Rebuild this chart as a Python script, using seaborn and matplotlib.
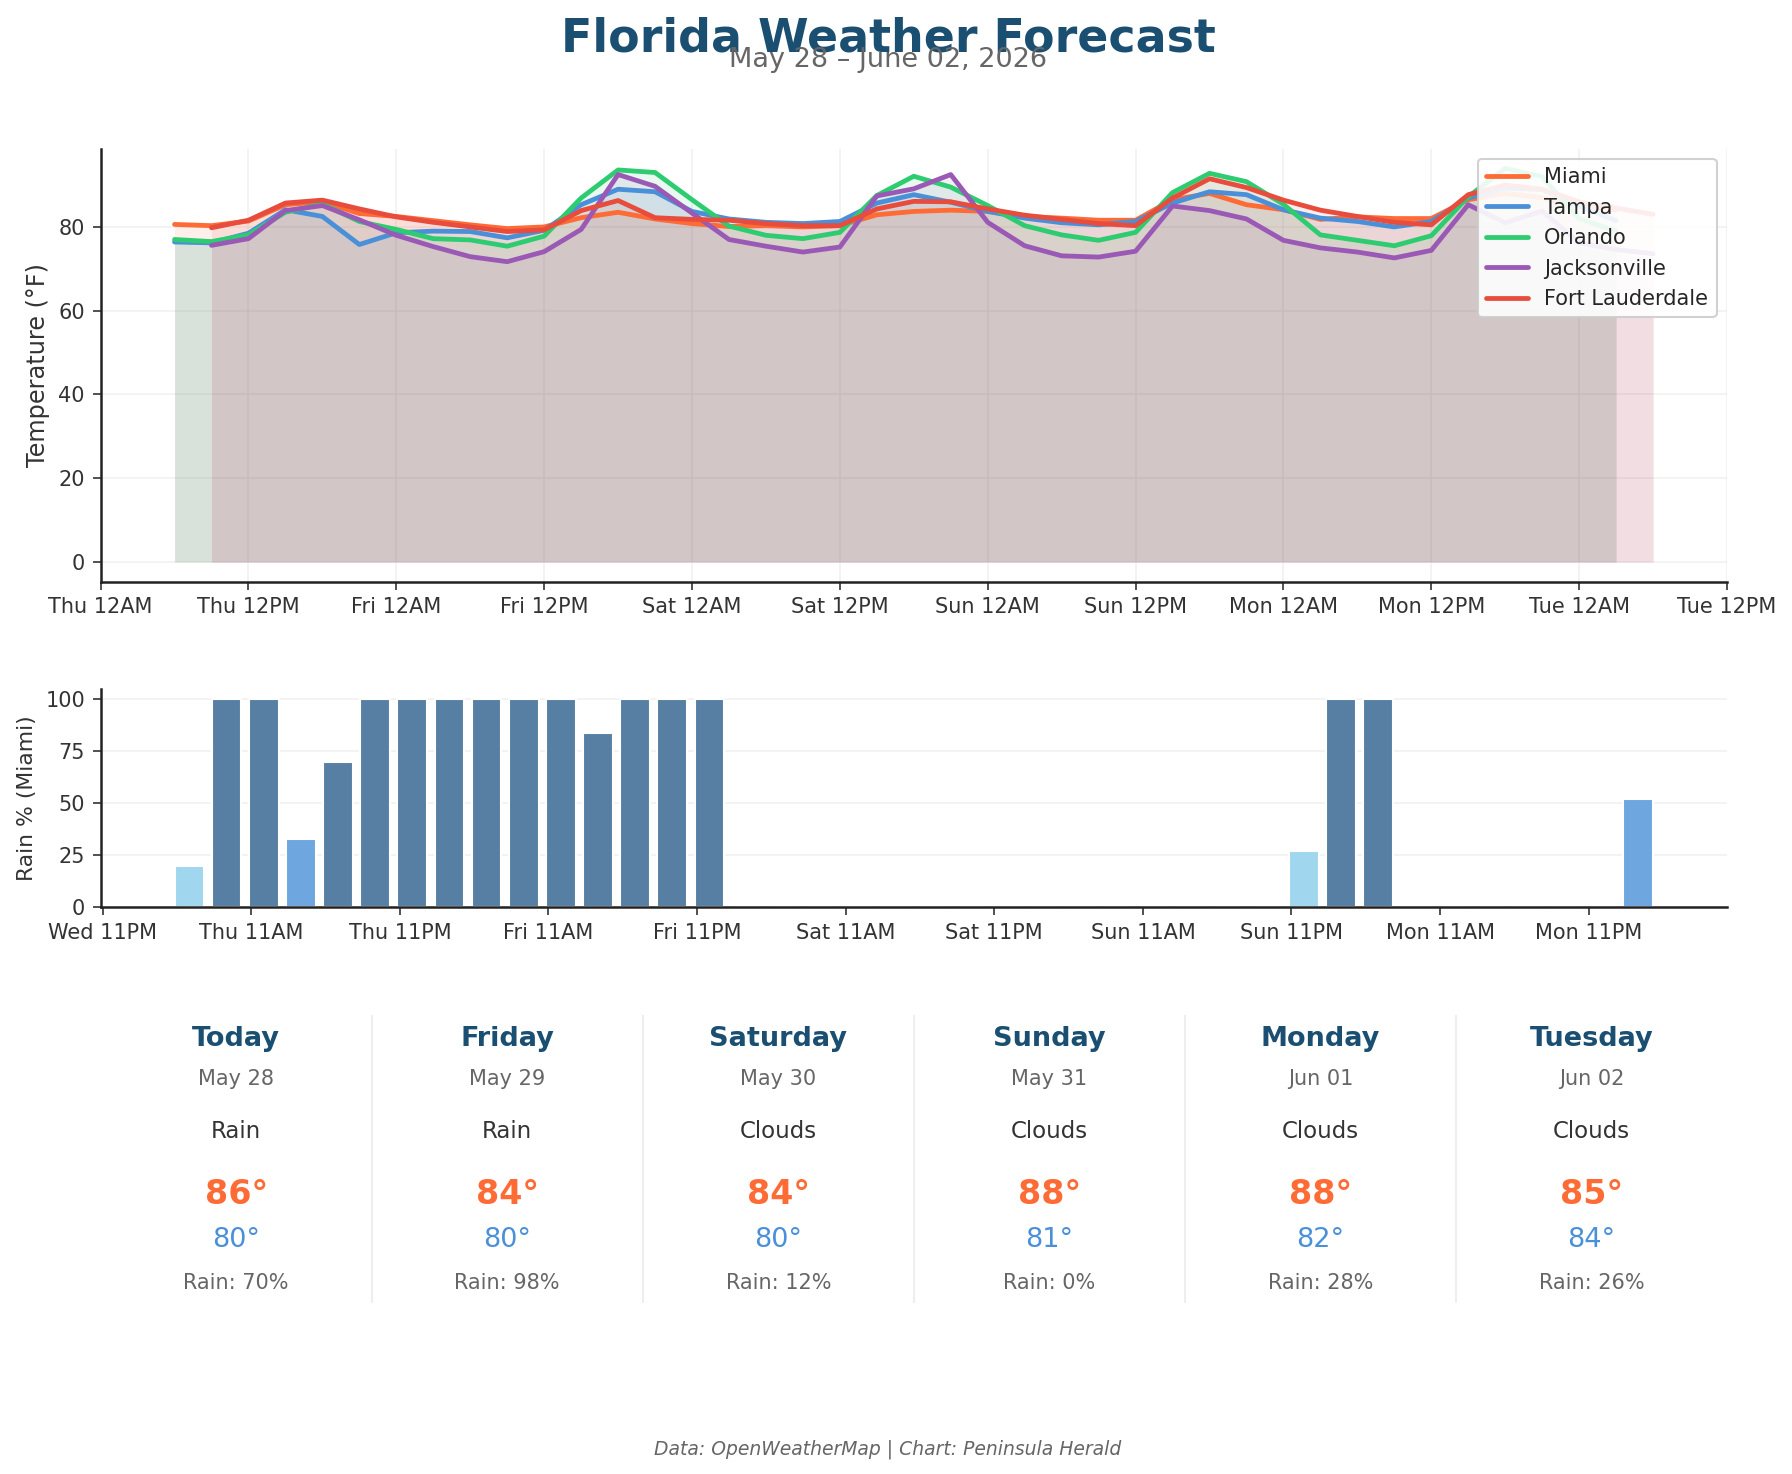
import pandas as pd
import numpy as np
import matplotlib.pyplot as plt
import matplotlib.dates as mdates
import seaborn as sns

# 城市与配色
cities = ['Miami', 'Tampa', 'Orlando', 'Jacksonville', 'Fort Lauderdale']
city_colors = ['#FF6B35', '#4A90D9', '#2ECC71', '#9B59B6', '#E74C3C']
city_start = ['2026-05-28 06:00', '2026-05-28 06:00', '2026-05-28 06:00',
              '2026-05-28 09:00', '2026-05-28 09:00']

# 3小时间隔的温度 (°F)
miami = [80.6, 80.3, 81.4, 85.3, 86.0, 83.2, 82.5, 81.5, 80.5, 79.6,
         80.0, 82.2, 83.5, 81.9, 80.8, 80.1, 80.3, 80.0, 80.3, 82.9,
         83.7, 84.0, 83.7, 82.5, 82.1, 81.6, 81.6, 86.5, 88.0, 85.3,
         84.1, 81.8, 82.4, 82.0, 82.0, 86.5, 88.0, 87.0, 85.0, 84.0]
tampa = [76.4, 76.2, 78.5, 84.1, 82.5, 75.8, 78.6, 79.0, 78.9, 77.4,
         79.2, 85.3, 89.0, 88.4, 83.7, 81.9, 81.1, 80.8, 81.3, 85.7,
         87.7, 85.9, 83.7, 82.1, 81.0, 80.5, 81.3, 85.7, 88.4, 87.7,
         84.1, 82.1, 81.3, 80.0, 81.3, 86.9, 89.3, 88.9, 85.0, 81.5]
orlando = [77.0, 76.5, 78.1, 83.5, 85.5, 81.3, 79.4, 77.2, 76.9, 75.4,
           77.8, 86.9, 93.6, 93.0, 86.5, 80.2, 78.0, 77.2, 78.7, 87.5,
           92.1, 89.5, 85.1, 80.3, 78.1, 76.8, 78.7, 88.2, 92.8, 90.8,
           85.4, 78.1, 76.8, 75.5, 77.9, 87.2, 94.0, 92.0, 82.0, 79.0]
jacksonville = [75.6, 77.2, 83.9, 85.1, 81.7, 78.0, 75.3, 72.9, 71.7, 74.1,
                79.4, 92.5, 89.7, 83.3, 77.0, 75.4, 74.0, 75.2, 87.4, 89.1,
                92.5, 81.1, 75.5, 73.1, 72.8, 74.2, 85.0, 83.9, 81.9, 76.8,
                75.0, 74.0, 72.6, 74.4, 85.3, 81.0, 83.8, 76.2, 74.6, 73.6]
fort_lauderdale = [79.8, 81.6, 85.7, 86.4, 84.3, 82.4, 81.1, 80.0, 78.9, 79.3,
                   83.9, 86.3, 82.2, 81.8, 81.6, 80.8, 80.3, 80.3, 84.3, 86.1,
                   86.0, 84.3, 82.8, 81.8, 80.8, 80.3, 86.9, 91.5, 89.4, 86.4,
                   84.0, 82.5, 81.1, 80.5, 87.7, 90.0, 89.0, 86.0, 84.5, 83.0]
temps = [miami, tampa, orlando, jacksonville, fort_lauderdale]

# 迈阿密降雨概率 (%)
rain_miami = [20, 100, 100, 33, 70, 100, 100, 100, 100, 100,
              100, 84, 100, 100, 100, 0, 0, 0, 0, 0,
              0, 0, 0, 0, 0, 0, 0, 0, 0, 0,
              27, 100, 100, 0, 0, 0, 0, 0, 0, 52]
rain_start = '2026-05-28 06:00'
rain_tick_start = '2026-05-27 23:00'

# 每日概览
day_names = ['Today', 'Friday', 'Saturday', 'Sunday', 'Monday', 'Tuesday']
day_dates = ['May 28', 'May 29', 'May 30', 'May 31', 'Jun 01', 'Jun 02']
day_cond = ['Rain', 'Rain', 'Clouds', 'Clouds', 'Clouds', 'Clouds']
day_high = [86, 84, 84, 88, 88, 85]
day_low = [80, 80, 80, 81, 82, 84]
day_rain = [70, 98, 12, 0, 28, 26]

# 整理为长表
frames = []
for c, s, t in zip(cities, city_start, temps):
    frames.append(pd.DataFrame({'time': pd.date_range(s, periods=len(t), freq='3h'),
                                'temp': t, 'city': c}))
df = pd.concat(frames, ignore_index=True)

sns.set_style('white')
plt.rcParams['font.family'] = ['DejaVu Sans']

W, H = 1792, 1474
fig = plt.figure(figsize=(W / 150, H / 150), dpi=150)

# 温度图
ax1 = fig.add_axes([100.6 / W, 1 - 581.7 / H, (1727 - 100.6) / W, (581.7 - 148.6) / H])
for c, col in zip(cities, city_colors):
    d = df[df['city'] == c]
    ax1.fill_between(d['time'], d['temp'], color=col, alpha=0.1, lw=0)
sns.lineplot(data=df, x='time', y='temp', hue='city', hue_order=cities,
             palette=city_colors, linewidth=2.3, ax=ax1)
ax1.margins(x=0.05)
ax1.xaxis.set_major_locator(mdates.HourLocator(byhour=[0, 12]))
ax1.xaxis.set_major_formatter(mdates.DateFormatter('%a %I%p'))
ax1.set_xlabel('')
ax1.set_ylabel('Temperature (°F)', fontsize=11.5, color='#333333')
ax1.tick_params(labelsize=10, colors='#333333', length=4, left=True, bottom=True)
ax1.grid(True, color='#e8e8e8', alpha=0.6, lw=0.8)
h, l = ax1.get_legend_handles_labels()
leg = ax1.legend(h, l, loc='upper right', fontsize=10, frameon=True, framealpha=0.9)
for line in leg.get_lines():
    line.set_linewidth(2.3)
sns.despine(ax=ax1)

# 降雨图
ax2 = fig.add_axes([100.6 / W, 1 - 907.5 / H, (1727 - 100.6) / W, (907.5 - 689) / H])
rain_times = pd.date_range(rain_start, periods=len(rain_miami), freq='3h')
bar_colors = ['#577FA3' if v >= 60 else '#6EA6DF' if v >= 30 else '#A0D7EE' for v in rain_miami]
ax2.bar(mdates.date2num(rain_times), rain_miami, width=0.1, color=bar_colors)
ax2.set_xticks(mdates.date2num(pd.date_range(rain_tick_start, periods=11, freq='12h')))
ax2.xaxis.set_major_formatter(mdates.DateFormatter('%a %I%p'))
ax2.set_yticks([0, 25, 50, 75, 100])
ax2.set_ylabel('Rain % (Miami)', fontsize=10.5, color='#333333')
ax2.tick_params(labelsize=10, colors='#333333', length=4, left=True, bottom=True)
ax2.grid(axis='y', color='#e8e8e8', alpha=0.6, lw=0.8)
sns.despine(ax=ax2)
for a in (ax1, ax2):
    for sp in ('left', 'bottom'):
        a.spines[sp].set_color('#222222')
        a.spines[sp].set_linewidth(1.2)

# 每日卡片
ax3 = fig.add_axes([100.6 / W, 1 - 1303 / H, (1727 - 100.6) / W, (1303 - 1015) / H])
ax3.set_xlim(0, len(day_names))
ax3.set_ylim(0, 1)
ax3.axis('off')
for k in range(1, len(day_names)):
    ax3.plot([k, k], [0, 1], color='#eeeeee', lw=1)
for k in range(len(day_names)):
    x = k + 0.5
    ax3.text(x, 0.917, day_names[k], ha='center', va='center', fontsize=13,
             fontweight='bold', color='#1B4F72')
    ax3.text(x, 0.778, day_dates[k], ha='center', va='center', fontsize=10, color='#666666')
    ax3.text(x, 0.596, day_cond[k], ha='center', va='center', fontsize=11, color='#333333')
    ax3.text(x, 0.377, f'{day_high[k]}°', ha='center', va='center', fontsize=16,
             fontweight='bold', color='#FF6B35')
    ax3.text(x, 0.219, f'{day_low[k]}°', ha='center', va='center', fontsize=13, color='#4A90D9')
    ax3.text(x, 0.068, f'Rain: {day_rain[k]}%', ha='center', va='center', fontsize=10,
             color='#666666')

# 标题
fig.text(888 / W, 1 - 51 / H, 'Florida Weather Forecast', ha='center', va='baseline',
         fontsize=22, fontweight='bold', color='#1B4F72')
fig.text(888 / W, 1 - 67 / H, 'May 28 – June 02, 2026', ha='center', va='baseline',
         fontsize=13, color='#666666')
fig.text(888 / W, 1 - 1449 / H, 'Data: OpenWeatherMap | Chart: Peninsula Herald',
         ha='center', va='center', fontsize=9, style='italic', color='#666666')

fig.savefig('out.png', dpi=150)
